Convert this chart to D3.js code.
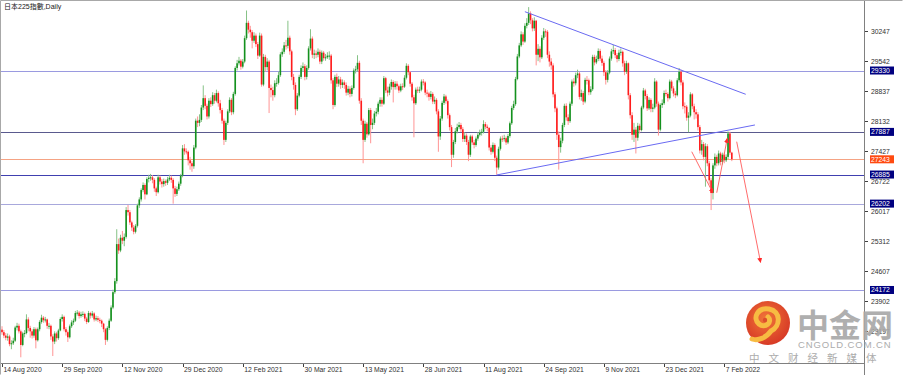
<!DOCTYPE html>
<html>
<head>
<meta charset="utf-8">
<script src="https://cdn.jsdelivr.net/npm/d3@7/dist/d3.min.js"></script>
<style>
body { margin: 0; background: #ffffff; }
svg { display: block; }
</style>
</head>
<body>
<div id="chart"></div>
<script>
// daily candles, 14 Aug 2020 .. 11 Feb 2022 (one row = 10 bars)
var opens = [
23240,23180,23100,23050,23080,22900,22920,22980,23290,23330,
23200,22880,23150,23160,23480,23280,23200,23100,23250,22990,
23250,23420,23520,23460,23480,23330,23330,23080,22960,23150,
23040,23220,23490,23540,23250,23180,23060,23320,23410,23450,
23630,23640,23560,23600,23610,23500,23420,23630,23570,23620,
23480,23510,23470,23450,23380,23250,23000,23280,23450,23760,
24120,24380,25250,25100,25400,25330,25420,26050,26000,25760,
25640,25540,25680,26160,26300,26520,26640,26420,26780,26810,
26820,26760,26560,26470,26820,26720,26660,26730,26690,26770,
26810,26760,26560,26430,26540,26670,26860,27500,27430,27420,
27220,27150,27080,27520,28150,28100,28170,28460,28680,28500,
28250,28620,28540,28750,28620,28800,28560,28400,28150,27700,
28100,28370,28640,28350,28780,29390,29500,29560,29420,29540,
30090,30450,30290,30230,30030,30150,29950,29680,30150,29000,
29650,29410,29540,28920,28870,28750,29030,29040,29220,29710,
29770,29920,29910,30100,29780,29180,28990,28420,28740,29180,
29390,29430,29180,29390,29850,30080,29700,29730,29700,29770,
29540,29750,29620,29640,29680,29680,29100,28520,29180,29020,
29120,28990,29050,28990,28810,28900,28780,28920,29330,29360,
29510,28620,28150,27700,28080,27830,28400,28050,28100,28320,
28360,28550,28640,28550,29150,28860,28810,28950,29060,28940,
29020,28960,28860,28960,28950,29160,29440,29290,29020,28700,
28560,28880,28870,28880,29070,29050,28810,28790,28710,28780,
28600,28640,28370,27780,28200,28570,28720,28610,28280,28000,
27350,27650,27900,28000,28050,27950,27720,27800,27650,27350,
27780,27640,27580,27730,27820,27870,27890,28070,28010,27980,
27520,27420,27580,27280,27050,27490,27730,27720,27740,27640,
27790,28090,28450,28540,29130,29660,29920,30180,30010,30380,
30450,30670,30510,30320,30500,29700,29840,29640,30100,30250,
30240,29700,29540,29450,28770,28440,27820,27530,27680,28050,
28500,28230,28140,28550,29070,29030,29220,29260,28710,28800,
28600,29110,29100,28820,28890,29650,29520,29600,29790,29610,
29510,29290,29110,29280,29610,29780,29810,29690,29600,29750,
29770,29500,29300,29500,28750,28280,27820,27940,27750,28030,
27930,28460,28860,28730,28440,28640,28430,28460,29070,28550,
27940,28520,28560,28800,28780,28680,29070,28910,28790,28750,
29100,29300,29050,28490,28480,28220,28270,28770,28490,28350,
28300,28000,27450,27600,27300,27550,27150,26750,26450,27100,
27300,27150,27380,27180,27350,27220,27300,27850,27400];

var highs = [
23320,23230,23160,23150,23120,22990,23050,23330,23400,23380,
23240,23190,23230,23600,23530,23330,23250,23300,23290,23290,
23460,23590,23560,23540,23500,23400,23360,23130,23200,23190,
23260,23530,23600,23570,23300,23220,23360,23460,23500,23680,
23700,23680,23660,23670,23640,23540,23680,23660,23680,23650,
23570,23560,23520,23480,23400,23280,23320,23500,23810,24180,
24450,25600,25380,25470,25560,25500,26120,26170,26050,25800,
25700,25720,26200,26350,26560,26700,26680,26820,26880,26900,
26870,26800,26600,26880,26860,26780,26790,26770,26830,26880,
26860,26800,26620,26600,26720,26900,27580,27600,27500,27450,
27300,27200,27580,28200,28250,28300,28520,28980,28750,28550,
28680,28700,28820,28800,28880,28840,28640,28450,28200,28150,
28420,28700,28680,28830,29430,29580,29650,29600,29600,30150,
30740,30500,30380,30280,30230,30200,30000,30220,30200,29720,
29700,29620,29580,29000,28950,29100,29150,29300,29760,29850,
30000,30050,30500,30150,29820,29250,29050,28800,29230,29450,
29520,29480,29450,29900,30300,30130,29820,29800,29850,29820,
29800,29790,29720,29760,29780,29720,29150,29230,29260,29200,
29180,29120,29100,29050,28970,28960,28980,29380,29440,29690,
29560,28680,28200,28150,28120,28450,28450,28200,28380,28450,
28600,28700,28700,29200,29180,28950,29020,29120,29100,29080,
29080,29000,29020,29030,29220,29500,29480,29320,29060,28760,
28930,28950,28950,29120,29130,29080,28880,28830,28850,28820,
28720,28680,28420,28260,28620,28780,28760,28650,28320,28050,
27700,27980,28080,28120,28100,28000,27880,27850,27700,27820,
27820,27700,27780,27880,27940,27960,28160,28120,28060,28000,
27580,27640,27620,27330,27540,27780,27800,27820,27780,27840,
28130,28500,28620,29180,29720,29980,30250,30230,30440,30560,
30820,30720,30560,30580,30520,29950,29900,30160,30330,30300,
30280,29780,29620,29500,28820,28480,27900,27750,28100,28550,
28560,28300,28600,29120,29150,29280,29350,29300,28880,28850,
29160,29200,29140,28960,29700,29700,29680,29850,29840,29680,
29560,29340,29340,29660,29840,29930,29860,29740,29820,29850,
29800,29560,29560,29520,28800,28350,28100,28000,28100,28080,
28500,28920,28900,28780,28700,28680,28550,29150,29100,28600,
28560,28650,28860,28880,28820,29120,29110,28960,28850,29150,
29390,29350,29100,28580,28520,28350,28820,28800,28550,28420,
28350,28050,27700,27650,27620,27600,27200,26800,27150,27380,
27350,27450,27420,27400,27400,27360,27900,27890,27420];

var lows = [
23120,23040,22990,22980,22850,22780,22880,22950,23220,23150,
22590,22850,23060,23130,23200,23050,23030,23050,22800,22960,
23200,23380,23400,23410,23260,23250,23000,22620,22900,22960,
23000,23200,23430,23200,23100,22950,23030,23280,23350,23420,
23570,23500,23520,23540,23440,23370,23400,23500,23520,23430,
23440,23420,23390,23300,23180,22880,22960,23230,23420,23720,
24080,24320,25020,25060,25250,25200,25380,25920,25700,25560,
25480,25500,25640,26100,26250,26470,26300,26400,26700,26740,
26680,26480,26380,26440,26650,26580,26600,26620,26640,26730,
26690,26200,26360,26380,26500,26620,26820,27350,27360,27100,
27000,26950,27020,27480,28000,28020,28120,28400,28420,28180,
28200,28470,28500,28550,28580,28480,28320,28080,27580,27650,
28050,28330,28280,28300,28740,29330,29450,29350,29380,29500,
30050,30200,30100,29850,29980,29880,29600,29650,28950,28960,
29300,29330,28330,28700,28620,28700,28950,29000,29180,29650,
29720,29820,29850,29700,29100,28880,28280,28380,28700,29130,
29300,29100,29120,29350,29800,29620,29600,29620,29640,29480,
29480,29560,29560,29600,29580,29020,28420,28480,28940,28950,
28900,28920,28900,28740,28750,28700,28720,28880,29260,29300,
28550,28050,27150,27650,27750,27800,27620,27950,28050,28250,
28300,28480,28480,28520,28800,28720,28750,28880,28580,28880,
28880,28800,28820,28870,28920,29120,29220,28950,28620,27760,
28520,28800,28800,28840,28980,28750,28700,28620,28650,28540,
28540,28300,27420,27700,28150,28520,28550,28200,27920,27060,
27280,27600,27850,27950,27880,27650,27650,27580,27200,27300,
27580,27500,27540,27680,27780,27800,27850,27950,27900,27450,
27350,27380,27200,26880,27000,27450,27650,27660,27580,27600,
27750,28050,28400,28500,29100,29620,29880,29930,29980,30320,
30400,30420,30250,30260,29450,29550,29520,29600,30050,30120,
29620,29420,29350,28700,28350,27700,27000,27400,27620,28000,
28150,28050,28100,28500,28950,28980,29150,28650,28620,28520,
28560,29000,28750,28760,28850,29450,29480,29550,29550,29440,
29200,29000,29050,29240,29560,29720,29620,29520,29550,29680,
29420,29220,29250,28650,28200,27700,27650,27380,27680,27850,
27900,28420,28650,28380,28400,28350,28350,28420,28480,27800,
27900,28450,28520,28720,28600,28650,28850,28720,28680,28720,
29050,28980,28420,28320,28150,27880,28230,28420,28180,28200,
27920,27380,27350,27220,26600,27080,26650,26050,26300,27020,
27080,27100,27100,27120,27150,27180,27250,27350,27200];

var closes = [
23180,23100,23050,23080,22900,22920,22980,23290,23330,23200,
22880,23150,23160,23480,23280,23200,23100,23250,22990,23250,
23420,23520,23460,23480,23330,23330,23080,22960,23150,23040,
23220,23490,23540,23250,23180,23060,23320,23410,23450,23630,
23640,23560,23600,23610,23500,23420,23630,23570,23620,23480,
23510,23470,23450,23380,23250,23000,23280,23450,23760,24120,
24380,25250,25100,25400,25330,25420,26050,26000,25760,25640,
25540,25680,26160,26300,26520,26640,26420,26780,26810,26820,
26760,26560,26470,26820,26720,26660,26730,26690,26770,26810,
26760,26560,26430,26540,26670,26860,27500,27430,27420,27220,
27150,27080,27520,28150,28100,28170,28460,28680,28500,28250,
28620,28540,28750,28620,28800,28560,28400,28150,27700,28100,
28370,28640,28350,28780,29390,29500,29560,29420,29540,30090,
30450,30290,30230,30030,30150,29950,29680,30150,29000,29650,
29410,29540,28920,28870,28750,29030,29040,29220,29710,29770,
29920,29910,30100,29780,29180,28990,28420,28740,29180,29390,
29430,29180,29390,29850,30080,29700,29730,29700,29770,29540,
29750,29620,29640,29680,29680,29100,28520,29180,29020,29120,
28990,29050,28990,28810,28900,28780,28920,29330,29360,29510,
28620,28150,27700,28080,27830,28400,28050,28100,28320,28360,
28550,28640,28550,29150,28860,28810,28950,29060,28940,29020,
28960,28860,28960,28950,29160,29440,29290,29020,28700,28560,
28880,28870,28880,29070,29050,28810,28790,28710,28780,28600,
28640,28370,27780,28200,28570,28720,28610,28280,28000,27350,
27650,27900,28000,28050,27950,27720,27800,27650,27350,27780,
27640,27580,27730,27820,27870,27890,28070,28010,27980,27520,
27420,27580,27280,27050,27490,27730,27720,27740,27640,27790,
28090,28450,28540,29130,29660,29920,30180,30010,30380,30450,
30670,30510,30320,30500,29700,29840,29640,30100,30250,30240,
29700,29540,29450,28770,28440,27820,27530,27680,28050,28500,
28230,28140,28550,29070,29030,29220,29260,28710,28800,28600,
29110,29100,28820,28890,29650,29520,29600,29790,29610,29510,
29290,29110,29280,29610,29780,29810,29690,29600,29750,29770,
29500,29300,29500,28750,28280,27820,27940,27750,28030,27930,
28460,28860,28730,28440,28640,28430,28460,29070,28550,27940,
28520,28560,28800,28780,28680,29070,28910,28790,28750,29100,
29300,29050,28490,28480,28220,28270,28770,28490,28350,28300,
28000,27450,27600,27300,27550,27150,26750,26450,27100,27300,
27150,27380,27180,27350,27220,27300,27850,27400,27243];

// price scale ticks and date labels (every 32 bars)
var priceTicks = [23197, 23902, 24607, 25312, 26017, 26722, 27427, 28132, 28837, 29542, 30247];
var dateLabels = ["14 Aug 2020", "29 Sep 2020", "12 Nov 2020", "29 Dec 2020", "12 Feb 2021",
                  "30 Mar 2021", "13 May 2021", "28 Jun 2021", "11 Aug 2021", "24 Sep 2021",
                  "9 Nov 2021", "23 Dec 2021", "7 Feb 2022"];

// horizontal levels drawn on the chart
var levelValues = [29330, 27887, 27243, 26885, 26202, 24172];

// trend lines, as [bar, price] pairs
var trendUpper = [[278.0, 30712], [395.4, 28771]];
var trendLower = [[263.0, 26875], [400.3, 28050]];

// red arrows, as [bar, price] pairs
var arrowA = [[366.7, 27422], [378.0, 26451]];
var arrowB = [[380.0, 26458], [385.6, 27737]];
var arrowC = [[390.6, 27657], [403.3, 24820]];

function init(){
    var w = 903;
    var h = 375;
    var plotRight = 864;
    var plotBottom = 363;

    var svg = d3.select('#chart')
                .append('svg')
                .attr('width', w)
                .attr('height', h)
                .style('font-family', '"Liberation Sans", Arial, sans-serif');

    svg.append('rect')
        .attr('width', w)
        .attr('height', h)
        .attr('fill', '#ffffff');

    // bar index -> x
    var xScale = d3.scaleLinear()
                    .domain([0, closes.length - 1])
                    .range([2, 731.8]);

    // price -> y
    var yScale = d3.scaleLinear()
                    .domain([22456, 30940])
                    .range([plotBottom, 2]);

    var defs = svg.append('defs');
    defs.append('clipPath')
        .attr('id', 'plot')
        .append('rect')
        .attr('x', 1)
        .attr('y', 1)
        .attr('width', plotRight - 1)
        .attr('height', plotBottom - 1);

    var plot = svg.append('g').attr('clip-path', 'url(#plot)');

    // level lines
    var levelColors = ['#9a9ae0', '#5a5a8e', '#f5a384', '#4040b0', '#a8a8dc', '#9a9ae0'];
    plot.selectAll('line.level')
        .data(levelValues)
        .enter()
        .append('line')
        .attr('class', 'level')
        .attr('x1', 1)
        .attr('x2', plotRight)
        .attr('y1', function(d){ return Math.round(yScale(d)) + 0.5; })
        .attr('y2', function(d){ return Math.round(yScale(d)) + 0.5; })
        .attr('stroke', function(d, i){ return levelColors[i]; })
        .attr('stroke-width', 1);

    // wicks
    plot.selectAll('line.wick')
        .data(d3.range(closes.length))
        .enter()
        .append('line')
        .attr('class', 'wick')
        .attr('x1', function(i){ return xScale(i); })
        .attr('x2', function(i){ return xScale(i); })
        .attr('y1', function(i){ return yScale(highs[i]); })
        .attr('y2', function(i){ return yScale(lows[i]); })
        .attr('stroke', function(i){ return closes[i] >= opens[i] ? '#86c286' : '#ff9494'; })
        .attr('stroke-width', 1);

    // bodies
    plot.selectAll('rect.body')
        .data(d3.range(closes.length))
        .enter()
        .append('rect')
        .attr('class', 'body')
        .attr('x', function(i){ return xScale(i) - 0.8; })
        .attr('width', 1.6)
        .attr('y', function(i){ return yScale(Math.max(opens[i], closes[i])); })
        .attr('height', function(i){
            return Math.max(1, Math.abs(yScale(opens[i]) - yScale(closes[i])));
        })
        .attr('fill', function(i){ return closes[i] >= opens[i] ? '#14911e' : '#ff1c1c'; });

    // trend lines
    [trendUpper, trendLower].forEach(function(t){
        plot.append('line')
            .attr('x1', xScale(t[0][0]))
            .attr('y1', yScale(t[0][1]))
            .attr('x2', xScale(t[1][0]))
            .attr('y2', yScale(t[1][1]))
            .attr('stroke', '#6a6af2')
            .attr('stroke-width', 1);
    });

    // red arrows
    defs.append('marker')
        .attr('id', 'head')
        .attr('viewBox', '0 0 10 10')
        .attr('refX', 9)
        .attr('refY', 5)
        .attr('markerWidth', 5)
        .attr('markerHeight', 5)
        .attr('markerUnits', 'userSpaceOnUse')
        .attr('orient', 'auto')
        .append('path')
        .attr('d', 'M0,0 L10,5 L0,10 z')
        .attr('fill', '#ff2a2a');

    [arrowA, arrowB, arrowC].forEach(function(a){
        plot.append('line')
            .attr('x1', xScale(a[0][0]))
            .attr('y1', yScale(a[0][1]))
            .attr('x2', xScale(a[1][0]))
            .attr('y2', yScale(a[1][1]))
            .attr('stroke', '#ff5a5a')
            .attr('stroke-width', 0.9)
            .attr('marker-end', 'url(#head)');
    });

    // frame
    svg.append('path')
        .attr('d', 'M0.5,' + (h - 0.5) + ' V0.5 H' + (w - 0.5))
        .attr('fill', 'none')
        .attr('stroke', '#a8a8a8');
    svg.append('line')
        .attr('x1', plotRight + 0.5).attr('x2', plotRight + 0.5)
        .attr('y1', 1).attr('y2', h)
        .attr('stroke', '#808080');
    svg.append('line')
        .attr('x1', 1).attr('x2', plotRight + 1)
        .attr('y1', plotBottom + 0.5).attr('y2', plotBottom + 0.5)
        .attr('stroke', '#808080');

    // price axis
    svg.selectAll('line.ptick')
        .data(priceTicks)
        .enter()
        .append('line')
        .attr('class', 'ptick')
        .attr('x1', plotRight + 1)
        .attr('x2', plotRight + 4)
        .attr('y1', function(d){ return Math.round(yScale(d)) + 0.5; })
        .attr('y2', function(d){ return Math.round(yScale(d)) + 0.5; })
        .attr('stroke', '#404040');

    svg.selectAll('text.plabel')
        .data(priceTicks)
        .enter()
        .append('text')
        .attr('class', 'plabel')
        .attr('x', plotRight + 7)
        .attr('y', function(d){ return yScale(d) + 2.5; })
        .attr('font-size', '6.8px')
        .attr('fill', '#303030')
        .text(function(d){ return d; });

    // level boxes on the price axis
    var boxColors = ['#000080', '#000080', '#ff4a10', '#000080', '#000080', '#000080'];
    var boxes = svg.selectAll('g.box')
        .data(levelValues)
        .enter()
        .append('g')
        .attr('class', 'box');
    boxes.append('rect')
        .attr('x', plotRight + 6)
        .attr('y', function(d){ return yScale(d) - 4; })
        .attr('width', 24)
        .attr('height', 8)
        .attr('fill', function(d, i){ return boxColors[i]; });
    boxes.append('text')
        .attr('x', plotRight + 7)
        .attr('y', function(d){ return yScale(d) + 2.5; })
        .attr('font-size', '6.8px')
        .attr('fill', '#ffffff')
        .text(function(d){ return d; });

    // date axis
    var dateTicks = dateLabels.map(function(d, i){ return i * 32; });
    svg.selectAll('line.dtick')
        .data(dateTicks)
        .enter()
        .append('line')
        .attr('class', 'dtick')
        .attr('x1', function(d){ return Math.round(xScale(d)) + 0.5; })
        .attr('x2', function(d){ return Math.round(xScale(d)) + 0.5; })
        .attr('y1', plotBottom + 1)
        .attr('y2', plotBottom + 4)
        .attr('stroke', '#404040');

    svg.selectAll('text.dlabel')
        .data(dateLabels)
        .enter()
        .append('text')
        .attr('class', 'dlabel')
        .attr('x', function(d, i){ return xScale(dateTicks[i]) + 1.5; })
        .attr('y', 372)
        .attr('font-size', '6.8px')
        .attr('fill', '#303030')
        .text(function(d){ return d; });

    // title
    svg.append('text')
        .attr('x', 4)
        .attr('y', 9)
        .attr('font-size', '7px')
        .attr('fill', '#202020')
        .style('font-family', '"Liberation Sans", "Noto Sans CJK TC", sans-serif')
        .text('日本225指數,Daily');

    // watermark
    var wm = svg.append('g').attr('opacity', 0.92);
    var grad = defs.append('radialGradient')
        .attr('id', 'logo')
        .attr('cx', '45%').attr('cy', '40%').attr('r', '60%');
    grad.append('stop').attr('offset', '0%').attr('stop-color', '#f06a28');
    grad.append('stop').attr('offset', '100%').attr('stop-color', '#d42a14');
    wm.append('circle')
        .attr('cx', 768)
        .attr('cy', 323)
        .attr('r', 22)
        .attr('fill', 'url(#logo)');
    wm.append('path')
        .attr('d', 'M771,331 C781,326 781,311 769,309 C758,307 752,318 759,324 C765,329 773,322 768,317 ' +
                   'M771,331 C766,338 758,341 752,339')
        .attr('fill', 'none')
        .attr('stroke', '#f7b632')
        .attr('stroke-width', 5)
        .attr('stroke-linecap', 'round');
    wm.append('circle')
        .attr('cx', 765)
        .attr('cy', 320)
        .attr('r', 2.2)
        .attr('fill', '#d8401c');

    wm.append('text')
        .attr('x', 797)
        .attr('y', 337)
        .attr('font-size', '32px')
        .attr('font-weight', 'bold')
        .attr('fill', '#a9a9a9')
        .style('font-family', '"Noto Sans CJK SC", sans-serif')
        .text('中金网');
    wm.append('text')
        .attr('x', 798)
        .attr('y', 348)
        .attr('font-size', '9.5px')
        .attr('letter-spacing', '0.9px')
        .attr('fill', '#a6a6a6')
        .text('CNGOLD.COM.CN');
    wm.append('text')
        .attr('x', 749)
        .attr('y', 362)
        .attr('font-size', '10.5px')
        .attr('letter-spacing', '9px')
        .attr('fill', '#a6a6a6')
        .style('font-family', '"Noto Sans CJK SC", sans-serif')
        .text('中文财经新媒体');
}

window.onload = init;
</script>
</body>
</html>
